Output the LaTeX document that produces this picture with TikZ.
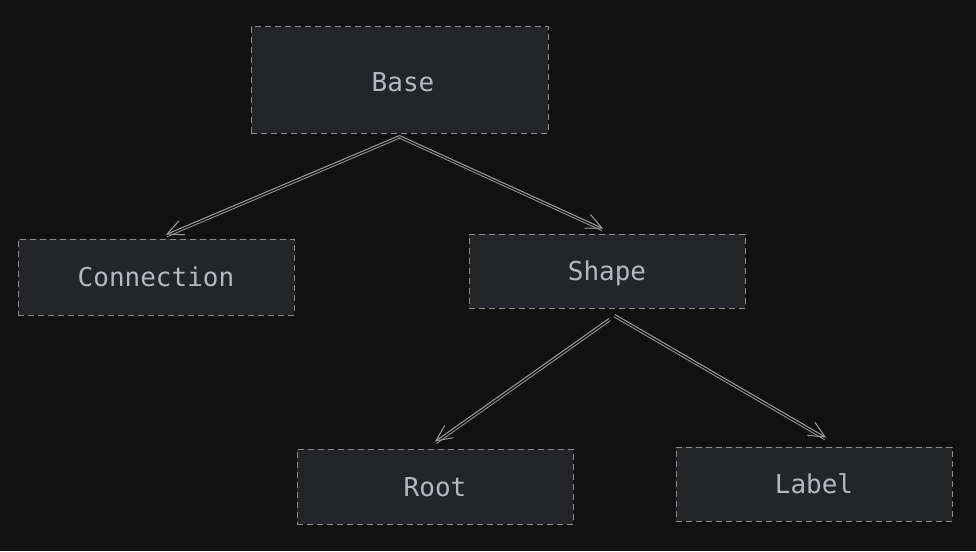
\documentclass[tikz,border=0pt]{standalone}
\usepackage{fontspec}
\setmonofont{DejaVu Sans Mono}
\usetikzlibrary{arrows.meta}
\definecolor{bgc}{HTML}{111111}
\definecolor{boxfill}{HTML}{242528}
\definecolor{boxline}{HTML}{8C8C8C}
\definecolor{txt}{HTML}{B4B8BF}
\definecolor{arrc}{HTML}{9E9E9E}
\tikzset{
  boxtext/.style={text=txt, font=\ttfamily\fontsize{26}{30}\selectfont, text height=19pt, text depth=0pt},
  classbox/.style={boxtext, draw=boxline, fill=boxfill, dashed, dash pattern=on 6pt off 4pt, line width=1pt,
    inner sep=0pt},
  arrowline/.style={draw=arrc, line width=1pt, -{Straight Barb[length=16pt,width=15pt,line width=1pt]}},
  secondline/.style={draw=arrc, line width=0.8pt},
}
\begin{document}
\begin{tikzpicture}[x=1pt,y=-1pt]
\fill[bgc] (0,0) rectangle (976,551);
\useasboundingbox (0,0) rectangle (976,551);
\node[classbox, minimum width=297pt, minimum height=106pt] (base) at (399.5,80) {};
\node[boxtext, inner sep=0pt] (basetxt) at (403,82) {Base};
\node[classbox, minimum width=276pt, minimum height=76pt] (con) at (156,277) {Connection};
\node[classbox, minimum width=276pt, minimum height=74pt] (shape) at (607,271) {Shape};
\node[classbox, minimum width=276pt, minimum height=75pt] (root) at (435,486.5) {Root};
\node[classbox, minimum width=276pt, minimum height=74pt] (label) at (814,484) {Label};
% connectors (sketchy double lines)
\coordinate (b1) at ([yshift=-2pt]base.south);
\coordinate (c1) at ([xshift=10pt,yshift=4pt]con.north);
\coordinate (s1) at ([xshift=-4pt,yshift=5pt]shape.north);
\coordinate (s2) at ([xshift=2pt,yshift=-10pt]shape.south);
\coordinate (s3) at ([xshift=8pt,yshift=-6pt]shape.south);
\coordinate (r1) at ([yshift=7pt]root.north);
\coordinate (l1) at ([xshift=12pt,yshift=9pt]label.north);
\draw[arrowline] (b1) -- (c1);
\draw[secondline] ([xshift=1pt,yshift=-2.3pt]b1) -- ([xshift=1pt,yshift=-2.3pt]c1);
\draw[arrowline] (b1) -- (s1);
\draw[secondline] ([xshift=-1pt,yshift=-2.2pt]b1) -- ([xshift=-1pt,yshift=-2.2pt]s1);
\draw[arrowline] (s2) -- (r1);
\draw[secondline] ([xshift=1.5pt,yshift=-2.1pt]s2) -- ([xshift=1.5pt,yshift=-2.1pt]r1);
\draw[arrowline] (s3) -- (l1);
\draw[secondline] ([xshift=-1.3pt,yshift=-2.2pt]s3) -- ([xshift=-1.3pt,yshift=-2.2pt]l1);
\end{tikzpicture}
\end{document}
